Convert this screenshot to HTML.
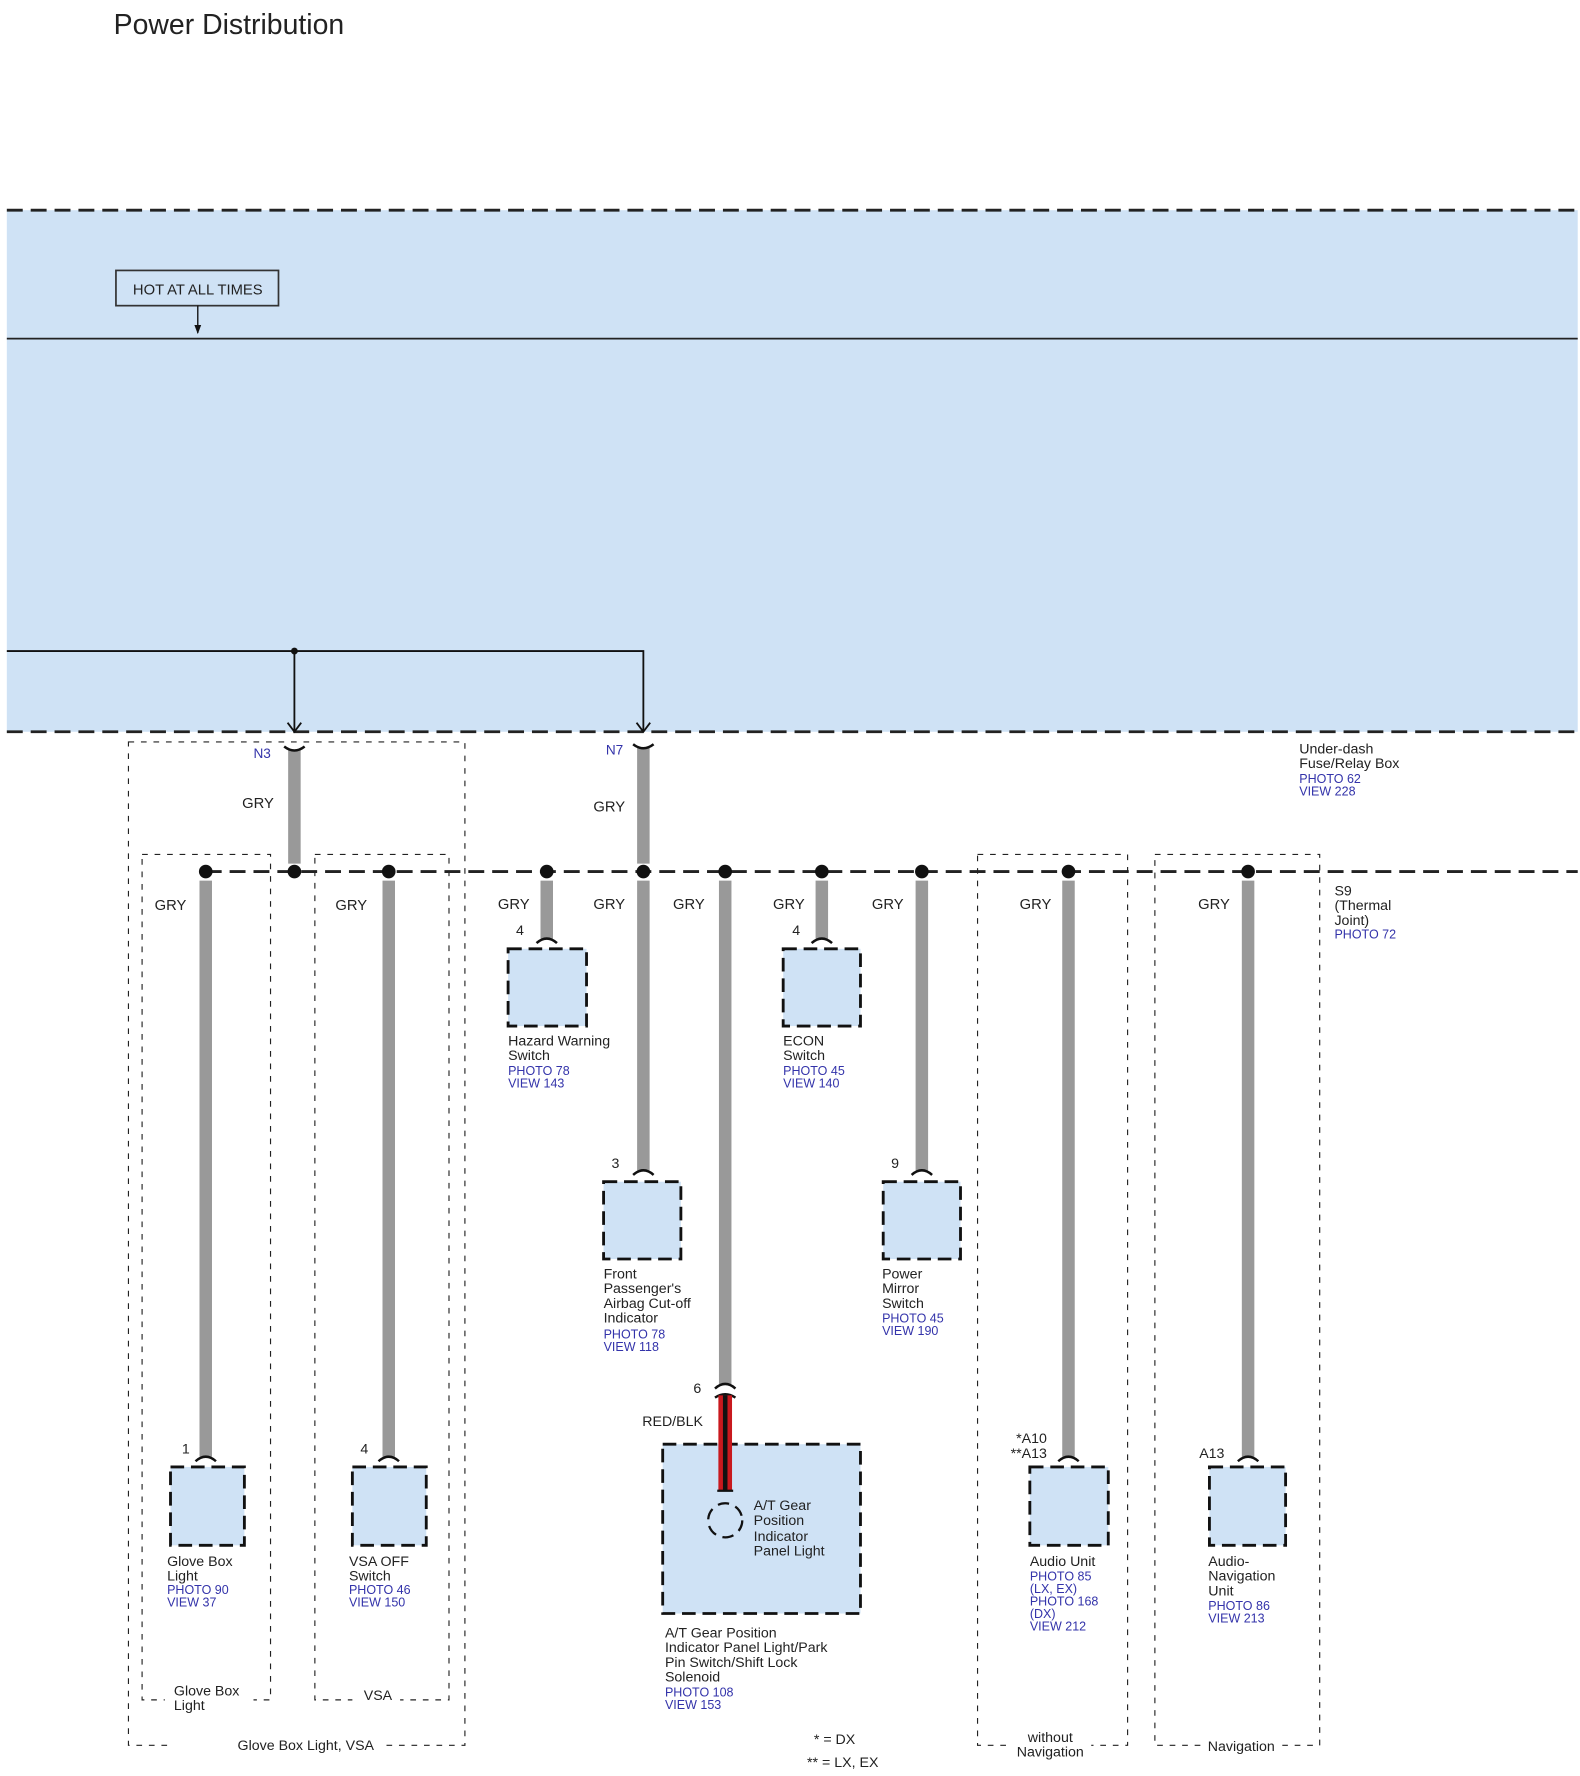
<!DOCTYPE html>
<html><head><meta charset="utf-8"><style>
html,body{margin:0;padding:0;background:#fff;}
svg{display:block;}
text{font-family:"Liberation Sans",sans-serif;fill:#222;}
.l text{font-size:12.5px;}
.b text{font-size:11px;fill:#3333aa;}
.g text{font-size:13px;}
</style></head><body>
<svg width="1580" height="1776" viewBox="0 0 1390 1563" preserveAspectRatio="none" xmlns="http://www.w3.org/2000/svg">
<text x="100" y="30" style="font-size:25px">Power Distribution</text>
<rect x="6" y="185" width="1382" height="459" fill="#cfe2f5"/>
<line x1="6" y1="185" x2="1388" y2="185" stroke="#222" stroke-width="2.5" stroke-dasharray="14 7"/>
<line x1="6" y1="644" x2="1388" y2="644" stroke="#222" stroke-width="2.5" stroke-dasharray="14 7"/>
<rect x="102" y="238" width="143" height="31" fill="none" stroke="#333" stroke-width="1.5"/>
<text x="174" y="259" text-anchor="middle" style="font-size:13px">HOT AT ALL TIMES</text>
<line x1="174" y1="269" x2="174" y2="293" stroke="#111" stroke-width="1.2"/>
<path d="M171,286 L174,294 L177,286Z" fill="#111"/>
<line x1="6" y1="298" x2="1388" y2="298" stroke="#222" stroke-width="1.6"/>
<polyline points="6,573 566,573 566,644" fill="none" stroke="#111" stroke-width="1.6"/>
<line x1="259" y1="573" x2="259" y2="644" stroke="#111" stroke-width="1.6"/>
<path d="M253,636 L259,644 L265,636 M560,636 L566,644 L572,636" fill="none" stroke="#111" stroke-width="1.6"/>
<circle cx="259" cy="573" r="3" fill="#111"/>

<g fill="none" stroke="#222" stroke-width="1" stroke-dasharray="5 6">
<rect x="113" y="653" width="296" height="883"/>
<rect x="125" y="752" width="113" height="744"/>
<rect x="277" y="752" width="118" height="744"/>
<rect x="860" y="752" width="132" height="784"/>
<rect x="1016" y="752" width="145" height="784"/>
</g>
<g fill="#fff" stroke="none">
<rect x="150" y="1530" width="190" height="12"/>
<rect x="145" y="1485" width="78" height="22"/>
<rect x="310" y="1488" width="42" height="14"/>
<rect x="888" y="1522" width="72" height="30"/>
<rect x="1058" y="1532" width="70" height="12"/>
</g>

<line x1="181" y1="767" x2="1388" y2="767" stroke="#222" stroke-width="2.5" stroke-dasharray="14 7"/>

<g stroke="#999" stroke-width="11">
<line x1="259" y1="660" x2="259" y2="760"/>
<line x1="566" y1="658" x2="566" y2="760"/>
<line x1="181" y1="775" x2="181" y2="1282"/>
<line x1="342" y1="775" x2="342" y2="1282"/>
<line x1="481" y1="775" x2="481" y2="826"/>
<line x1="566" y1="775" x2="566" y2="1030"/>
<line x1="638" y1="775" x2="638" y2="1218"/>
<line x1="723" y1="775" x2="723" y2="826"/>
<line x1="811" y1="775" x2="811" y2="1030"/>
<line x1="940" y1="775" x2="940" y2="1282"/>
<line x1="1098" y1="775" x2="1098" y2="1282"/>
</g>
<g fill="none" stroke="#111" stroke-width="2.2">
<path d="M250,657 Q259,664 268,657"/>
<path d="M557,655 Q566,662 575,655"/>
<path d="M172,1286 Q181,1278 190,1286"/>
<path d="M333,1286 Q342,1278 351,1286"/>
<path d="M472,830 Q481,822 490,830"/>
<path d="M714,830 Q723,822 732,830"/>
<path d="M557,1034 Q566,1026 575,1034"/>
<path d="M802,1034 Q811,1026 820,1034"/>
<path d="M629,1222 Q638,1214 647,1222"/>
<path d="M629,1230 Q638,1224 647,1230"/>
<path d="M931,1286 Q940,1278 949,1286"/>
<path d="M1089,1286 Q1098,1278 1107,1286"/>
</g>
<g fill="#111">
<circle cx="181" cy="767" r="6"/><circle cx="259" cy="767" r="6"/><circle cx="342" cy="767" r="6"/>
<circle cx="481" cy="767" r="6"/><circle cx="566" cy="767" r="6"/><circle cx="638" cy="767" r="6"/>
<circle cx="723" cy="767" r="6"/><circle cx="811" cy="767" r="6"/><circle cx="940" cy="767" r="6"/>
<circle cx="1098" cy="767" r="6"/>
</g>

<g fill="#cfe2f5" stroke="#111" stroke-width="2.5" stroke-dasharray="12 6">
<rect x="150" y="1291" width="65" height="69"/>
<rect x="310" y="1291" width="65" height="69"/>
<rect x="447" y="835" width="69" height="68"/>
<rect x="689" y="835" width="68" height="68"/>
<rect x="531" y="1040" width="68" height="68"/>
<rect x="777" y="1040" width="68" height="68"/>
<rect x="906" y="1291" width="69" height="69"/>
<rect x="1064" y="1291" width="67" height="69"/>
<rect x="583" y="1271" width="174" height="149"/>
</g>
<rect x="632" y="1228" width="12" height="84" fill="#c8191e"/>
<rect x="636" y="1228" width="4" height="84" fill="#111"/>
<line x1="631" y1="1312" x2="645" y2="1312" stroke="#111" stroke-width="2"/>
<circle cx="638" cy="1338" r="15" fill="none" stroke="#111" stroke-width="2" stroke-dasharray="10 6"/>

<text x="223" y="667" style="font-size:12px;fill:#3333aa">N3</text>
<text x="533" y="664" style="font-size:12px;fill:#3333aa">N7</text>
<g class="g" text-anchor="middle">
<text x="227" y="711">GRY</text><text x="536" y="714">GRY</text>
<text x="150" y="801">GRY</text><text x="309" y="801">GRY</text><text x="452" y="800">GRY</text>
<text x="536" y="800">GRY</text><text x="606" y="800">GRY</text><text x="694" y="800">GRY</text>
<text x="781" y="800">GRY</text><text x="911" y="800">GRY</text><text x="1068" y="800">GRY</text>
</g>
<g class="l">
<text x="160" y="1279">1</text><text x="317" y="1279">4</text><text x="454" y="823">4</text>
<text x="697" y="823">4</text><text x="538" y="1028">3</text><text x="784" y="1028">9</text>
<text x="610" y="1226">6</text>
<text x="921" y="1270" text-anchor="end">*A10</text>
<text x="921" y="1283" text-anchor="end">**A13</text>
<text x="1055" y="1283">A13</text>
<text x="565" y="1255">RED/BLK</text>
<text x="663" y="1329">A/T Gear</text><text x="663" y="1342">Position</text><text x="663" y="1356">Indicator</text><text x="663" y="1369">Panel Light</text>
<text x="147" y="1378">Glove Box</text><text x="147" y="1391">Light</text>
<text x="307" y="1378">VSA OFF</text><text x="307" y="1391">Switch</text>
<text x="447" y="920">Hazard Warning</text><text x="447" y="933">Switch</text>
<text x="689" y="920">ECON</text><text x="689" y="933">Switch</text>
<text x="531" y="1125">Front</text><text x="531" y="1138">Passenger's</text><text x="531" y="1151">Airbag Cut-off</text><text x="531" y="1164">Indicator</text>
<text x="776" y="1125">Power</text><text x="776" y="1138">Mirror</text><text x="776" y="1151">Switch</text>
<text x="906" y="1378">Audio Unit</text>
<text x="1063" y="1378">Audio-</text><text x="1063" y="1391">Navigation</text><text x="1063" y="1404">Unit</text>
<text x="585" y="1441">A/T Gear Position</text><text x="585" y="1454">Indicator Panel Light/Park</text><text x="585" y="1467">Pin Switch/Shift Lock</text><text x="585" y="1480">Solenoid</text>
<text x="1143" y="663">Under-dash</text><text x="1143" y="676">Fuse/Relay Box</text>
<text x="1174" y="788">S9</text><text x="1174" y="801">(Thermal</text><text x="1174" y="814">Joint)</text>
<text x="153" y="1492">Glove Box</text><text x="153" y="1505">Light</text>
<text x="320" y="1496">VSA</text>
<text x="209" y="1540">Glove Box Light, VSA</text>
<text x="716" y="1535">* =  DX</text><text x="710" y="1555">** =  LX, EX</text>
<text x="924" y="1533" text-anchor="middle">without</text><text x="924" y="1546" text-anchor="middle">Navigation</text>
<text x="1092" y="1541" text-anchor="middle">Navigation</text>
</g>
<g class="b">
<text x="147" y="1403">PHOTO 90</text><text x="147" y="1414">VIEW 37</text>
<text x="307" y="1403">PHOTO 46</text><text x="307" y="1414">VIEW 150</text>
<text x="447" y="946">PHOTO 78</text><text x="447" y="957">VIEW 143</text>
<text x="689" y="946">PHOTO 45</text><text x="689" y="957">VIEW 140</text>
<text x="531" y="1178">PHOTO 78</text><text x="531" y="1189">VIEW 118</text>
<text x="776" y="1164">PHOTO 45</text><text x="776" y="1175">VIEW 190</text>
<text x="906" y="1391">PHOTO 85</text><text x="906" y="1402">(LX, EX)</text><text x="906" y="1413">PHOTO 168</text><text x="906" y="1424">(DX)</text><text x="906" y="1435">VIEW 212</text>
<text x="1063" y="1417">PHOTO 86</text><text x="1063" y="1428">VIEW 213</text>
<text x="585" y="1493">PHOTO 108</text><text x="585" y="1504">VIEW 153</text>
<text x="1143" y="689">PHOTO 62</text><text x="1143" y="700">VIEW 228</text>
<text x="1174" y="826">PHOTO 72</text>
</g>
</svg>
</body></html>
